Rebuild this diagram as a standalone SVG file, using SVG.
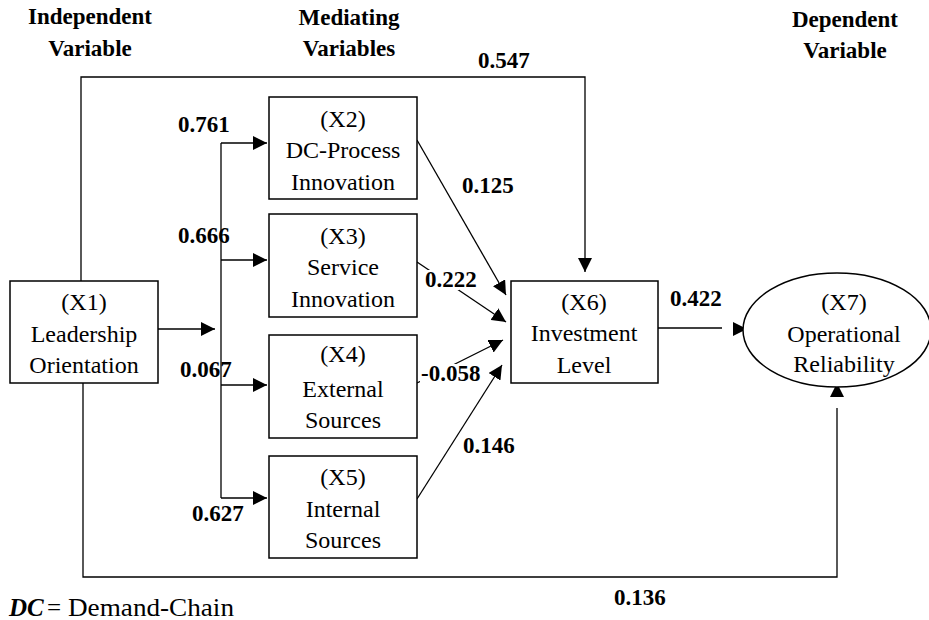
<svg xmlns="http://www.w3.org/2000/svg" width="929" height="620" viewBox="0 0 929 620">
  <style>
    .box { fill: #ffffff; stroke: #000000; stroke-width: 1.5; }
    .conn { fill: none; stroke: #000000; stroke-width: 1.3; }
    .node { font-size: 24px; fill: #000000; text-anchor: middle; }
    .lbl { font-size: 23px; font-weight: bold; fill: #000000; }
    .hdr { font-size: 23px; font-weight: bold; fill: #000000; text-anchor: middle; }
    .bg { fill: #ffffff; stroke: none; }
  </style>
  <defs>
    <marker id="arrow" viewBox="0 0 14 14" refX="14" refY="7" markerWidth="14" markerHeight="14" markerUnits="userSpaceOnUse" orient="auto">
      <path d="M0,0 L14,7 L0,14 z" fill="#000000"/>
    </marker>
  </defs>
  <rect width="929" height="620" fill="#ffffff"/>

  <g id="headers" font-family="Liberation Serif, Times New Roman, serif">
    <text class="hdr" x="90" y="24">Independent</text>
    <text class="hdr" x="90" y="56">Variable</text>
    <text class="hdr" x="349" y="25">Mediating</text>
    <text class="hdr" x="349" y="56">Variables</text>
    <text class="hdr" x="845" y="27">Dependent</text>
    <text class="hdr" x="845" y="58">Variable</text>
  </g>

  <g id="connectors">
    <path class="conn" d="M81,281 V77 H585 V272" marker-end="url(#arrow)"/>
    <path class="conn" d="M83,383 V577 H837 V408"/>
    <path class="conn" d="M837,397 V383" marker-end="url(#arrow)"/>
    <path class="conn" d="M158,329 H215" marker-end="url(#arrow)"/>
    <path class="conn" d="M221,143 V498"/>
    <path class="conn" d="M221,143 H267" marker-end="url(#arrow)"/>
    <path class="conn" d="M221,260 H267" marker-end="url(#arrow)"/>
    <path class="conn" d="M221,385 H267" marker-end="url(#arrow)"/>
    <path class="conn" d="M221,498 H267" marker-end="url(#arrow)"/>
    <path class="conn" d="M417,140 L506,295" marker-end="url(#arrow)"/>
    <path class="conn" d="M417,262 L506,322" marker-end="url(#arrow)"/>
    <path class="conn" d="M417,383 L503,340" marker-end="url(#arrow)"/>
    <path class="conn" d="M417,499 L502,365" marker-end="url(#arrow)"/>
    <path class="conn" d="M658,328 H722"/>
    <path class="conn" d="M733,329 H747" marker-end="url(#arrow)"/>
  </g>

  <g id="X1" font-family="Liberation Serif, Times New Roman, serif">
    <rect class="box" x="10" y="281" width="148" height="102"/>
    <text class="node" x="84" y="310">(X1)</text>
    <text class="node" x="84" y="342">Leadership</text>
    <text class="node" x="84" y="373">Orientation</text>
  </g>
  <g id="X2" font-family="Liberation Serif, Times New Roman, serif">
    <rect class="box" x="269" y="97" width="148" height="102"/>
    <text class="node" x="343" y="127">(X2)</text>
    <text class="node" x="343" y="158">DC-Process</text>
    <text class="node" x="343" y="190">Innovation</text>
  </g>
  <g id="X3" font-family="Liberation Serif, Times New Roman, serif">
    <rect class="box" x="269" y="214" width="148" height="103"/>
    <text class="node" x="343" y="244">(X3)</text>
    <text class="node" x="343" y="275">Service</text>
    <text class="node" x="343" y="307">Innovation</text>
  </g>
  <g id="X4" font-family="Liberation Serif, Times New Roman, serif">
    <rect class="box" x="269" y="335" width="148" height="103"/>
    <text class="node" x="343" y="362">(X4)</text>
    <text class="node" x="343" y="397">External</text>
    <text class="node" x="343" y="428">Sources</text>
  </g>
  <g id="X5" font-family="Liberation Serif, Times New Roman, serif">
    <rect class="box" x="269" y="456" width="148" height="102"/>
    <text class="node" x="343" y="485">(X5)</text>
    <text class="node" x="343" y="517">Internal</text>
    <text class="node" x="343" y="548">Sources</text>
  </g>
  <g id="X6" font-family="Liberation Serif, Times New Roman, serif">
    <rect class="box" x="511" y="281" width="147" height="102"/>
    <text class="node" x="584" y="310">(X6)</text>
    <text class="node" x="584" y="341">Investment</text>
    <text class="node" x="584" y="373">Level</text>
  </g>
  <g id="X7" font-family="Liberation Serif, Times New Roman, serif">
    <ellipse class="box" cx="837" cy="330" rx="94" ry="57"/>
    <text class="node" x="844" y="310">(X7)</text>
    <text class="node" x="844" y="342">Operational</text>
    <text class="node" x="844" y="372">Reliability</text>
  </g>

  <g id="labels" font-family="Liberation Serif, Times New Roman, serif">
    <text class="lbl" x="478" y="68">0.547</text>
    <text class="lbl" x="178" y="132">0.761</text>
    <text class="lbl" x="178" y="243">0.666</text>
    <text class="lbl" x="180" y="377">0.067</text>
    <text class="lbl" x="192" y="521">0.627</text>
    <text class="lbl" x="462" y="193">0.125</text>
    <rect class="bg" x="425" y="270" width="34" height="20"/>
    <text class="lbl" x="425" y="287">0.222</text>
    <rect class="bg" x="420" y="364" width="38" height="20"/>
    <text class="lbl" x="421" y="381">-0.058</text>
    <text class="lbl" x="463" y="453">0.146</text>
    <text class="lbl" x="670" y="306">0.422</text>
    <text class="lbl" x="614" y="605">0.136</text>
  </g>

  <g id="legend" font-family="Liberation Serif, Times New Roman, serif" font-size="25px" fill="#000000">
    <text x="9" y="616"><tspan font-weight="bold" font-style="italic">DC</tspan><tspan x="47">=</tspan><tspan x="68" textLength="166" lengthAdjust="spacingAndGlyphs">Demand-Chain</tspan></text>
  </g>
</svg>
